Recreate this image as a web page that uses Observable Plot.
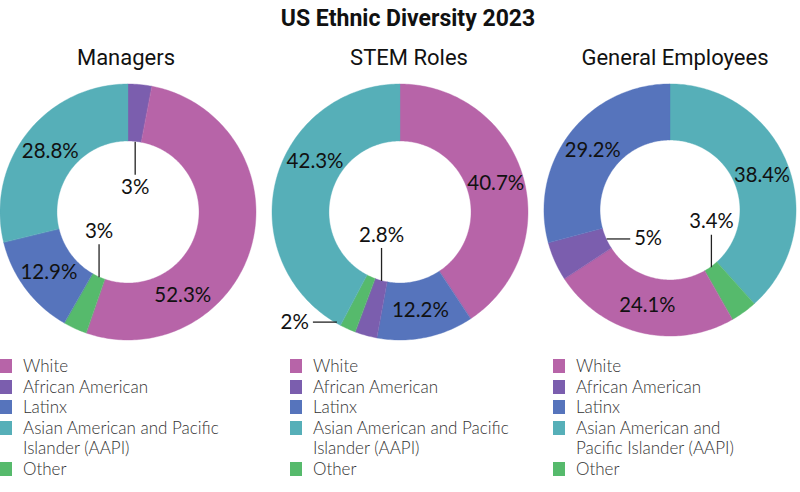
<!DOCTYPE html>
<html>
<head>
<meta charset="utf-8">
<script src="https://cdn.jsdelivr.net/npm/d3@7"></script>
<script src="https://cdn.jsdelivr.net/npm/@observablehq/plot@0.6"></script>
<style>
  html, body { margin: 0; padding: 0; background: #fff; overflow: hidden; }
  #root { position: relative; width: 800px; height: 492px; overflow: hidden; background: #fff; }
  .title { position: absolute; left: 0; top: 7px; width: 100%; padding-left: 16px; box-sizing: border-box;
           text-align: center; font-family: Roboto, sans-serif; font-weight: 700; font-size: 23px; line-height: 23px; color: #111; }
  .sub { position: absolute; top: 47px; width: 260px; text-align: center; font-family: Roboto, sans-serif;
         font-weight: 400; font-size: 22px; line-height: 22px; color: #111; }
  .chart { position: absolute; top: 80px; }
  .legend { position: absolute; top: 356px; font-family: Lato, sans-serif; font-weight: 300;
            font-size: 17px; line-height: 20.5px; color: #333; }
  .item { position: relative; padding-left: 23px; }
  .sw { position: absolute; left: 0; top: 3px; width: 12px; height: 14px; }
</style>
</head>
<body>
<div id="root"></div>
<script>
// ---------- data ----------
const title = "US Ethnic Diversity 2023";
const charts = ["Managers", "STEM Roles", "General Employees"];
const categories = ["White", "African American", "Latinx", "Asian American and Pacific Islander (AAPI)", "Other"];
const colors = ["#b764a8", "#7b5eae", "#5674bc", "#56afb8", "#56ba6c"];

// slice order, clockwise from 12 o'clock
const managersOrder = ["African American", "White", "Other", "Latinx", "Asian American and Pacific Islander (AAPI)"];
const managersValues = [3, 52.3, 3, 12.9, 28.8];
const stemOrder = ["White", "Latinx", "African American", "Other", "Asian American and Pacific Islander (AAPI)"];
const stemValues = [40.7, 12.2, 2.8, 2, 42.3];
const generalOrder = ["Asian American and Pacific Islander (AAPI)", "Other", "White", "African American", "Latinx"];
const generalValues = [38.4, 3.4, 24.1, 5, 29.2];

// ---------- layout ----------
const R = 128;                 // outer radius, px
const IN = 0.555;              // inner radius as fraction of outer
const PAD = 4;
const centersX = [128, 400, 672];
const subCenters = [126, 409, 675];
const legendLeft = [0, 290, 553];
const legendWidth = [245, 245, 205];
const labelSpecs = [
  { "African American": {leader: "down", from: "inner"}, "Other": {leader: "up", from: "inner"}, "White": {nudge: 42} },
  { "African American": {leader: "up", from: "inner"}, "Other": {leader: "left", from: "outer", nudge: 6},
    "Asian American and Pacific Islander (AAPI)": {nudge: 17} },
  { "African American": {leader: "right", from: "inner"}, "Other": {leader: "up", from: "inner"} }
];
const datasets = [[managersOrder, managersValues], [stemOrder, stemValues], [generalOrder, generalValues]];

const root = document.getElementById("root");
const t = document.createElement("div"); t.className = "title"; t.textContent = title; root.appendChild(t);

function donut(order, values, spec) {
  const px = 1 / R;
  const total = d3.sum(values);
  let acc = 0;
  const slices = order.map((cat, i) => {
    const a0 = acc / total * 2 * Math.PI; acc += values[i];
    const a1 = acc / total * 2 * Math.PI;
    return {cat, value: values[i], a0, a1, am: (a0 + a1) / 2};
  });
  const pts = slices.flatMap(s => {
    const n = Math.max(2, Math.ceil((s.a1 - s.a0) / (Math.PI / 180)));
    return d3.range(n + 1).map(k => {
      const a = s.a0 + (s.a1 - s.a0) * k / n;
      return {cat: s.cat, xo: Math.sin(a), yo: Math.cos(a), xi: IN * Math.sin(a), yi: IN * Math.cos(a)};
    });
  });
  const leaders = [], labels = [];
  const dirs = {down: [0, -1], up: [0, 1], left: [-1, 0], right: [1, 0]};
  for (const s of slices) {
    const sp = spec[s.cat] || {};
    const text = `${s.value}%`;
    const a = s.am + (sp.nudge || 0) * Math.PI / 180;
    if (sp.leader) {
      const rr = sp.from === "inner" ? IN : 0.99;
      const x1 = rr * Math.sin(a), y1 = rr * Math.cos(a);
      const d = dirs[sp.leader];
      const vertical = d[0] === 0;
      const len = (vertical ? 33 : 24) * px;
      const x2 = x1 + d[0] * len, y2 = y1 + d[1] * len;
      leaders.push({x1, y1, x2, y2});
      const off = (vertical ? 13 : 4) * px;
      labels.push({x: x2 + d[0] * off, y: y2 + d[1] * off, text,
        anchor: vertical ? "middle" : (d[0] < 0 ? "end" : "start")});
    } else {
      const rr = (1 + IN) / 2;
      labels.push({x: rr * Math.sin(a), y: rr * Math.cos(a), text, anchor: "middle"});
    }
  }
  const size = 2 * R + 2 * PAD;
  const textMark = anchor => Plot.text(labels.filter(d => d.anchor === anchor), {
    x: "x", y: "y", text: "text", textAnchor: anchor, fontSize: 20.5, fontFamily: "Lato, sans-serif", fill: "#111"
  });
  return Plot.plot({
    width: size, height: size, margin: PAD,
    x: {domain: [-1, 1], axis: null},
    y: {domain: [-1, 1], axis: null},
    color: {domain: categories, range: colors},
    style: {background: "transparent", overflow: "visible"},
    marks: [
      Plot.area(pts, {x1: "xo", y1: "yo", x2: "xi", y2: "yi", z: "cat", fill: "cat", stroke: "cat", strokeWidth: 0.4}),
      Plot.link(leaders, {x1: "x1", y1: "y1", x2: "x2", y2: "y2", stroke: "#222", strokeWidth: 1.3}),
      textMark("middle"), textMark("start"), textMark("end")
    ]
  });
}

charts.forEach((name, i) => {
  const sub = document.createElement("div");
  sub.className = "sub"; sub.textContent = name;
  sub.style.left = (subCenters[i] - 130) + "px";
  root.appendChild(sub);

  const wrap = document.createElement("div");
  wrap.className = "chart";
  wrap.style.left = (centersX[i] - R - PAD) + "px";
  wrap.appendChild(donut(datasets[i][0], datasets[i][1], labelSpecs[i]));
  root.appendChild(wrap);

  const lg = document.createElement("div");
  lg.className = "legend";
  lg.style.left = legendLeft[i] + "px";
  lg.style.width = legendWidth[i] + "px";
  categories.forEach((c, j) => {
    const it = document.createElement("div"); it.className = "item";
    const sw = document.createElement("span"); sw.className = "sw"; sw.style.background = colors[j];
    it.appendChild(sw); it.appendChild(document.createTextNode(c));
    lg.appendChild(it);
  });
  root.appendChild(lg);
});
</script>
</body>
</html>
